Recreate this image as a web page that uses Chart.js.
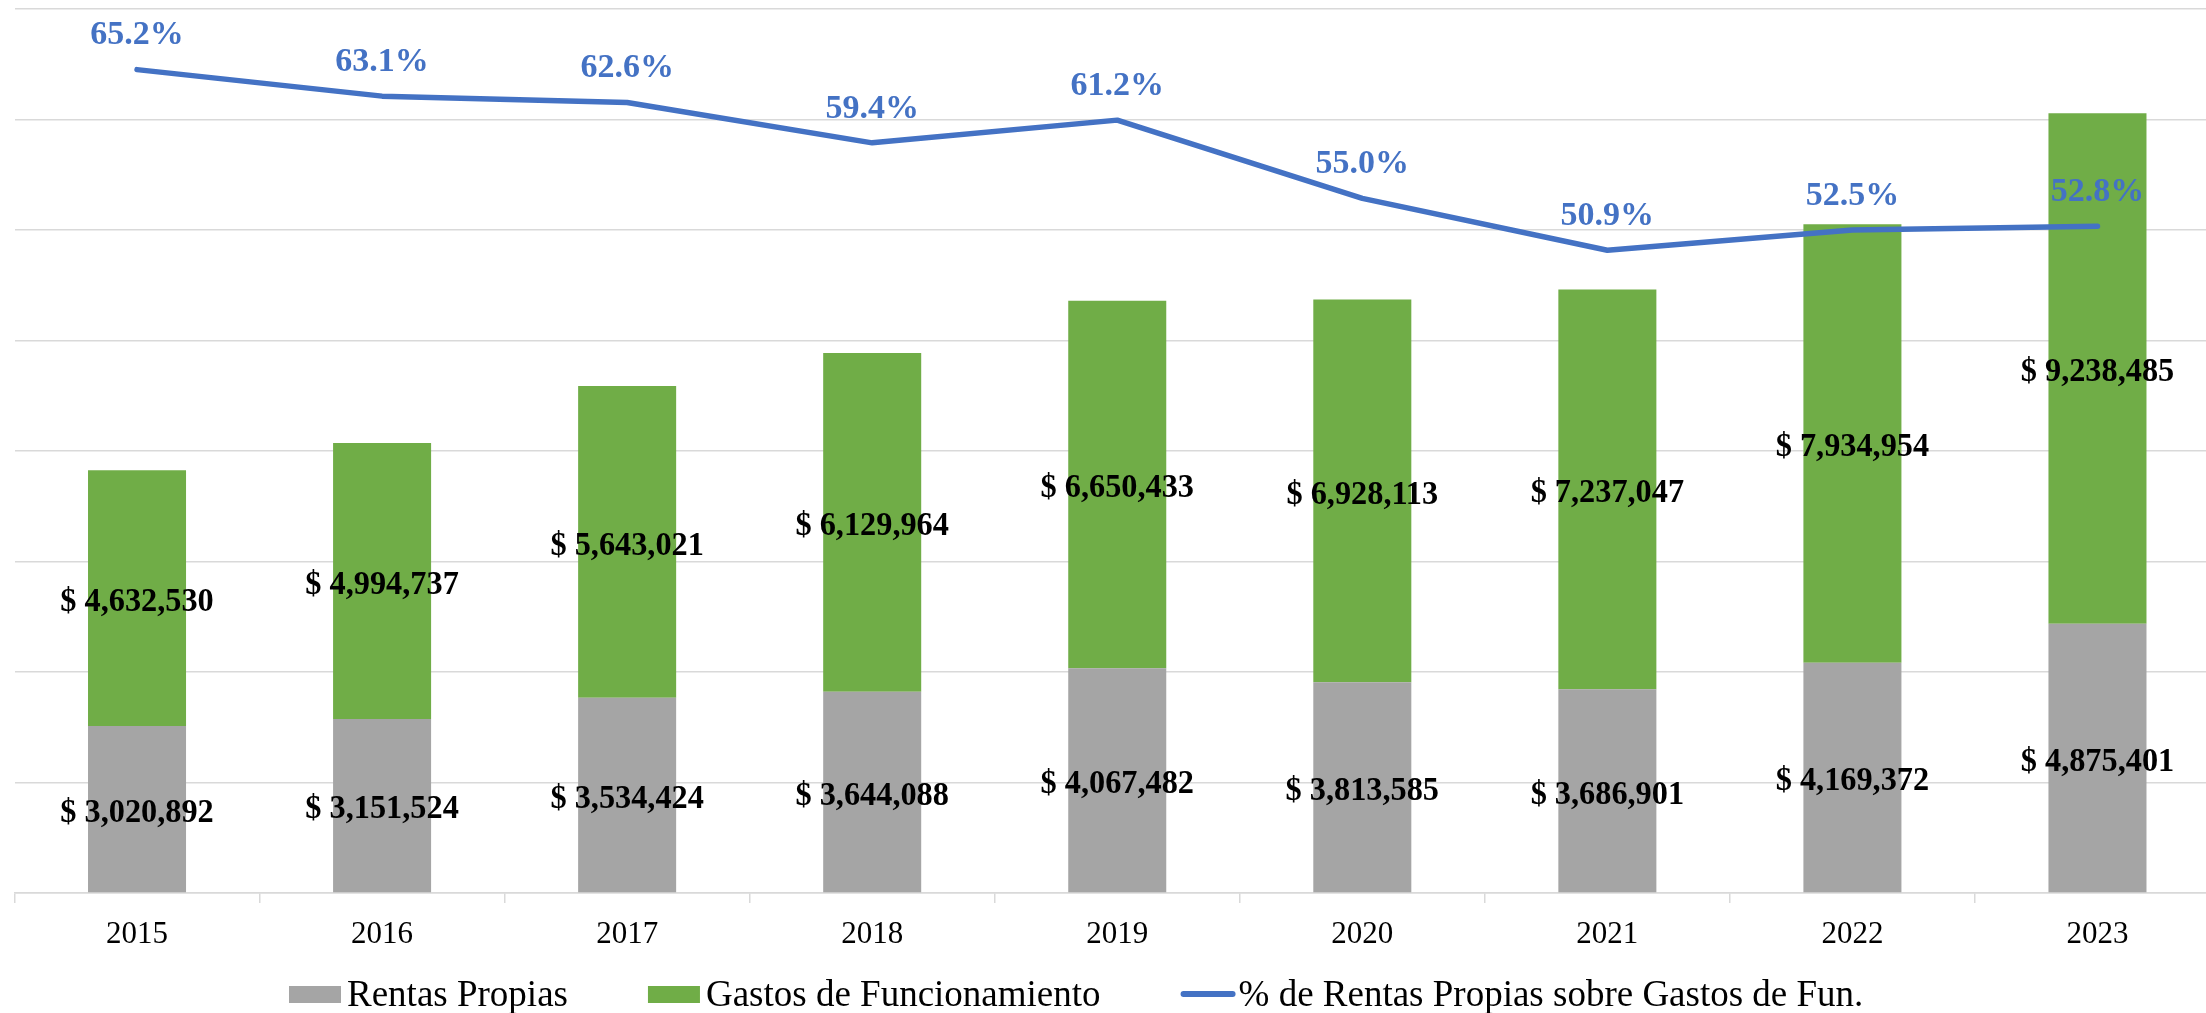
<!DOCTYPE html>
<html>
<head>
<meta charset="utf-8">
<title>Rentas Propias vs Gastos de Funcionamiento</title>
<script src="https://cdn.jsdelivr.net/npm/chart.js@4.4.0/dist/chart.umd.min.js"></script>
<style>
    html, body { margin: 0; padding: 0; background: #ffffff; overflow: hidden; }
    #wrap { position: relative; width: 2220px; height: 1013px; }
</style>
</head>
<body>
<div id="wrap"><canvas id="rentasChart"></canvas></div>
<script>
var years = ['2015', '2016', '2017', '2018', '2019', '2020', '2021', '2022', '2023'];
var rentasPropias = [3020892, 3151524, 3534424, 3644088, 4067482, 3813585, 3686901, 4169372, 4875401];
var gastosFuncionamiento = [4632530, 4994737, 5643021, 6129964, 6650433, 6928113, 7237047, 7934954, 9238485];
var porcentajeRentas = [65.2, 63.1, 62.6, 59.4, 61.2, 55.0, 50.9, 52.5, 52.8];
var legendLabels = ['Rentas Propias', 'Gastos de Funcionamiento', '% de Rentas Propias sobre Gastos de Fun.'];

(function () {
    var SERIF = '"Liberation Serif", "Times New Roman", serif';
    var GRAY = '#a5a5a5';
    var GREEN = '#70ad47';
    var BLUE = '#4472c4';
    var GRID = '#d9d9d9';

    function money(value) {
        return '$ ' + value.toLocaleString('en-US');
    }

    // the money labels in the original are a bit narrower than plain Times bold
    function drawNarrow(ctx, text, x, y, scaleX) {
        ctx.save();
        ctx.translate(x, y);
        ctx.scale(scaleX, 1);
        ctx.fillText(text, 0, 0);
        ctx.restore();
    }

    var valueLabels = {
        id: 'valueLabels',
        afterDatasetsDraw: function (chart) {
            var ctx = chart.ctx;
            ctx.save();
            ctx.textAlign = 'center';
            ctx.textBaseline = 'middle';
            ctx.font = 'bold 34px ' + SERIF;
            ctx.fillStyle = '#000000';

            [0, 1].forEach(function (index) {
                var values = chart.data.datasets[index].data;
                chart.getDatasetMeta(index).data.forEach(function (bar, i) {
                    drawNarrow(ctx, money(values[i]), bar.x, (bar.y + bar.base) / 2 + 4, 0.95);
                });
            });

            ctx.fillStyle = BLUE;
            chart.getDatasetMeta(2).data.forEach(function (point, i) {
                drawNarrow(ctx, porcentajeRentas[i].toFixed(1) + '%', point.x, point.y - 34, 1);
            });
            ctx.restore();
        }
    };

    var bottomLegend = {
        id: 'bottomLegend',
        afterDraw: function (chart) {
            var ctx = chart.ctx;
            var x = 289;
            ctx.save();
            ctx.font = '37px ' + SERIF;
            ctx.textAlign = 'left';
            ctx.textBaseline = 'alphabetic';

            legendLabels.forEach(function (label, i) {
                if (i < 2) {
                    ctx.fillStyle = i === 0 ? GRAY : GREEN;
                    ctx.fillRect(x, 986, 52, 17);
                } else {
                    ctx.strokeStyle = BLUE;
                    ctx.lineWidth = 6;
                    ctx.lineCap = 'round';
                    ctx.beginPath();
                    ctx.moveTo(x + 3, 994);
                    ctx.lineTo(x + 52, 994);
                    ctx.stroke();
                }
                x += 58;
                ctx.fillStyle = '#000000';
                ctx.fillText(label, x, 1006);
                x += ctx.measureText(label).width + 80;
            });
            ctx.restore();
        }
    };

    new Chart(document.getElementById('rentasChart'), {
        data: {
            labels: years,
            datasets: [
                {
                    type: 'bar',
                    label: legendLabels[0],
                    data: rentasPropias,
                    backgroundColor: GRAY,
                    borderWidth: 0,
                    yAxisID: 'y',
                    stack: 'montos',
                    order: 1,
                    barPercentage: 0.4,
                    categoryPercentage: 1
                },
                {
                    type: 'bar',
                    label: legendLabels[1],
                    data: gastosFuncionamiento,
                    backgroundColor: GREEN,
                    borderWidth: 0,
                    yAxisID: 'y',
                    stack: 'montos',
                    order: 1,
                    barPercentage: 0.4,
                    categoryPercentage: 1
                },
                {
                    type: 'line',
                    label: legendLabels[2],
                    data: porcentajeRentas,
                    yAxisID: 'y1',
                    borderColor: BLUE,
                    backgroundColor: BLUE,
                    borderWidth: 5.5,
                    borderCapStyle: 'round',
                    borderJoinStyle: 'round',
                    pointRadius: 0,
                    tension: 0,
                    fill: false,
                    order: 0
                }
            ]
        },
        options: {
            responsive: true,
            maintainAspectRatio: false,
            animation: false,
            layout: {
                padding: { left: 14.5, top: 9, right: 0, bottom: 0 }
            },
            plugins: {
                legend: { display: false },
                tooltip: { enabled: false }
            },
            scales: {
                x: {
                    stacked: true,
                    offset: true,
                    grid: {
                        offset: true,
                        drawOnChartArea: false,
                        drawTicks: true,
                        tickLength: 10,
                        color: GRID,
                        lineWidth: 1.5
                    },
                    border: { display: true, color: GRID, width: 1.5 },
                    ticks: {
                        color: '#000000',
                        font: { family: SERIF, size: 31 },
                        padding: 13,
                        maxRotation: 0,
                        autoSkip: false
                    },
                    afterFit: function (scale) {
                        scale.height = 120;
                    }
                },
                y: {
                    stacked: true,
                    min: 0,
                    max: 16000000,
                    ticks: { display: false, stepSize: 2000000 },
                    grid: { color: GRID, lineWidth: 1.5, drawTicks: false },
                    border: { display: false },
                    afterFit: function (scale) {
                        scale.width = 0;
                    }
                },
                y1: {
                    display: false,
                    position: 'right',
                    min: 0,
                    max: 70,
                    grid: { drawOnChartArea: false }
                }
            }
        },
        plugins: [valueLabels, bottomLegend]
    });
})();
</script>
</body>
</html>
